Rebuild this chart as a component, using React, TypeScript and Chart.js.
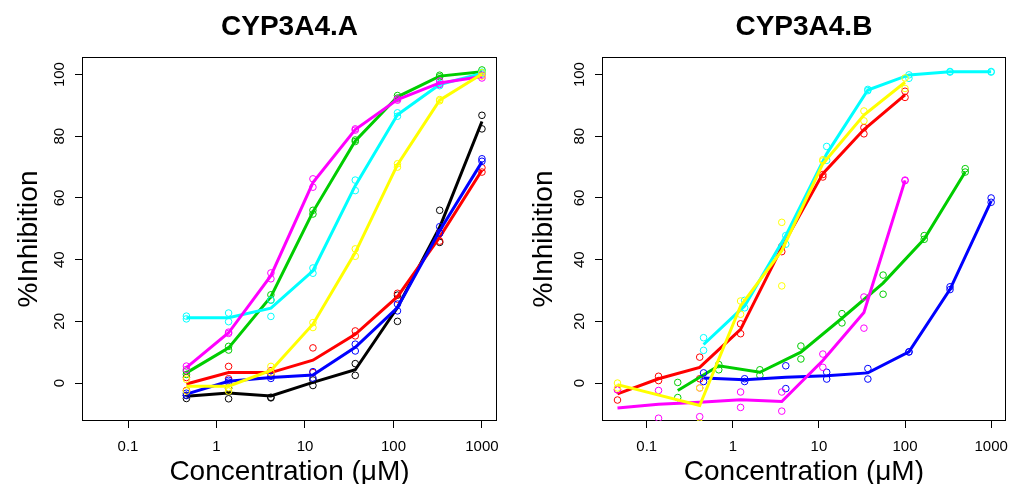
import React, { useEffect, useRef } from "react";
import { Chart, registerables } from "chart.js";

Chart.register(...registerables);

// ---------- data ----------
const xTickValues = [0.1, 1, 10, 100, 1000];
const xTickLabels = ["0.1", "1", "10", "100", "1000"];
const yTickValues = [0, 20, 40, 60, 80, 100];
const yTickLabels = ["0", "20", "40", "60", "80", "100"];

const titleA = "CYP3A4.A";
const titleB = "CYP3A4.B";
const xTitle = "Concentration (\u03BCM)";
const yTitle = "%Inhibition";

// concentrations (µM)
const conc1000 = [0.457, 1.37, 4.12, 12.3, 37.0, 111, 333, 1000];
const conc100 = [0.0457, 0.137, 0.412, 1.23, 3.7, 11.1, 33.3, 100];
const conc500 = [0.229, 0.686, 2.06, 6.17, 18.5, 55.6, 167, 500];

// ---- CYP3A4.A (all on conc1000) ----
const aBlackLine = [-4.3, -3.2, -4.2, 0.2, 4.3, 24.5, 50.5, 84.8];
const aBlackRep1 = [-4.0, -5.1, -4.6, -0.8, 6.3, 20.0, 56.0, 86.8];
const aBlackRep2 = [-5.0, -1.7, -4.8, 1.0, 2.5, 28.5, 45.6, 82.4];

const aRedLine = [-0.3, 3.4, 3.4, 7.4, 15.8, 28.0, 47.3, 69.0];
const aRedRep1 = [1.8, 5.4, 4.0, 11.4, 16.9, 29.1, 48.6, 69.8];
const aRedRep2 = [-2.4, 1.4, 2.9, 3.4, 15.3, 27.2, 46.0, 68.4];

const aGreenLine = [3.3, 11.4, 28.0, 55.5, 78.5, 92.8, 99.5, 100.9];
const aGreenRep1 = [3.9, 11.9, 28.6, 56.0, 78.8, 93.2, 99.8, 101.5];
const aGreenRep2 = [2.8, 10.7, 26.9, 54.8, 78.3, 92.4, 99.3, 100.6];

const aBlueLine = [-3.6, 0.6, 1.8, 2.6, 11.6, 24.5, 49.4, 71.7];
const aBlueRep1 = [-3.3, 0.9, 2.2, 3.7, 12.6, 25.6, 50.7, 72.7];
const aBlueRep2 = [-4.0, 0.3, 1.5, 1.6, 10.4, 23.4, 48.6, 71.9];

const aCyanLine = [21.2, 21.2, 24.3, 36.4, 64.0, 87.0, 96.8, 100.4];
const aCyanRep1 = [21.7, 22.7, 26.9, 37.3, 65.8, 87.6, 97.1, 100.8];
const aCyanRep2 = [20.8, 19.9, 21.6, 35.6, 62.4, 86.5, 96.4, 100.2];

const aMagentaLine = [5.0, 16.3, 34.8, 65.0, 82.2, 91.9, 97.3, 99.4];
const aMagentaRep1 = [5.5, 16.5, 35.7, 66.2, 82.4, 92.1, 97.9, 99.8];
const aMagentaRep2 = [4.4, 16.1, 33.8, 63.5, 82.0, 91.7, 96.8, 98.9];

const aYellowLine = [-1.0, -1.0, 4.1, 19.1, 42.3, 70.8, 91.7, 100.2];
const aYellowRep1 = [1.2, -1.5, 5.4, 19.6, 43.5, 71.1, 91.9, 100.6];
const aYellowRep2 = [-2.6, -2.6, 3.4, 18.0, 41.1, 70.0, 91.5, 99.5];

// ---- CYP3A4.B ----
const bRedLine = [-3.5, 1.4, 5.1, 17.4, 44.0, 67.9, 82.2, 93.4];
const bRedRep1 = [-2.2, 2.2, 8.4, 19.2, 44.3, 67.6, 82.8, 94.6];
const bRedRep2 = [-5.5, 0.8, 1.4, 16.0, 42.6, 66.8, 80.8, 92.6];

const bYellowLine = [-0.5, null, -7.3, 25.0, 42.9, 71.1, 86.9, 97.5];
const bYellowRep1 = [0.0, null, -1.6, 26.6, 52.1, 72.4, 88.2, 98.9];
const bYellowRep2 = [-1.6, null, -13.0, 22.3, 31.5, 72.0, 85.0, 95.5];

const bCyanLine = [12.5, 25.0, 47.8, 74.3, 95.0, 99.9, 100.9, 100.9];
const bCyanRep1 = [14.7, 26.8, 47.8, 76.7, 95.2, 99.9, 101.0, 101.0];
const bCyanRep2 = [10.6, 24.4, 45.0, 72.2, 94.8, 98.8, 100.8, 100.8];

const bGreenLine = [-2.4, 5.6, 3.5, 10.0, 21.0, 32.4, 46.7, 68.4];
const bGreenRep1 = [0.2, 6.0, 4.3, 12.0, 22.5, 35.0, 47.8, 69.5];
const bGreenRep2 = [-4.7, 4.3, 2.5, 7.8, 19.5, 28.8, 46.6, 68.4];

const bBlueLine = [1.6, 1.1, 1.9, 2.4, 3.3, 10.1, 30.4, 59.0];
const bBlueRep1 = [3.3, 1.4, 5.6, 3.5, 4.7, 10.1, 31.2, 60.0];
const bBlueRep2 = [0.5, 0.5, -1.8, 1.3, 1.3, 10.1, 30.3, 58.6];

const bMagentaLine = [-8.1, -6.9, -6.2, -5.4, -6.0, 7.3, 22.9, 65.7];
const bMagentaRep1 = [-2.2, -2.4, -1.6, -2.9, -2.9, 9.4, 27.9, 65.8];
const bMagentaRep2 = [-14.0, -11.4, -10.9, -7.9, -9.1, 5.1, 17.8, 65.6];

// ---------- styling / layout ----------
const COLORS = {
  black: "#000000",
  red: "#FF0000",
  green: "#00CD00",
  blue: "#0000FF",
  cyan: "#00FFFF",
  magenta: "#FF00FF",
  yellow: "#FFFF00",
};

const FONT = "'Liberation Sans', Arial, Helvetica, sans-serif";
const W = 509;
const H = 484;
const X_MIN = Math.pow(10, -1.52);
const X_MAX = Math.pow(10, 3.17);
const Y_MIN = -12.3;
const Y_MAX = 105.7;

type Series = {
  color: string;
  conc: number[];
  line: (number | null)[];
  rep1: (number | null)[];
  rep2: (number | null)[];
};

const seriesA: Series[] = [
  { color: COLORS.black, conc: conc1000, line: aBlackLine, rep1: aBlackRep1, rep2: aBlackRep2 },
  { color: COLORS.red, conc: conc1000, line: aRedLine, rep1: aRedRep1, rep2: aRedRep2 },
  { color: COLORS.green, conc: conc1000, line: aGreenLine, rep1: aGreenRep1, rep2: aGreenRep2 },
  { color: COLORS.blue, conc: conc1000, line: aBlueLine, rep1: aBlueRep1, rep2: aBlueRep2 },
  { color: COLORS.cyan, conc: conc1000, line: aCyanLine, rep1: aCyanRep1, rep2: aCyanRep2 },
  { color: COLORS.magenta, conc: conc1000, line: aMagentaLine, rep1: aMagentaRep1, rep2: aMagentaRep2 },
  { color: COLORS.yellow, conc: conc1000, line: aYellowLine, rep1: aYellowRep1, rep2: aYellowRep2 },
];

const seriesB: Series[] = [
  { color: COLORS.red, conc: conc100, line: bRedLine, rep1: bRedRep1, rep2: bRedRep2 },
  { color: COLORS.green, conc: conc500, line: bGreenLine, rep1: bGreenRep1, rep2: bGreenRep2 },
  { color: COLORS.blue, conc: conc1000, line: bBlueLine, rep1: bBlueRep1, rep2: bBlueRep2 },
  { color: COLORS.cyan, conc: conc1000, line: bCyanLine, rep1: bCyanRep1, rep2: bCyanRep2 },
  { color: COLORS.magenta, conc: conc100, line: bMagentaLine, rep1: bMagentaRep1, rep2: bMagentaRep2 },
  { color: COLORS.yellow, conc: conc100, line: bYellowLine, rep1: bYellowRep1, rep2: bYellowRep2 },
];

function toXY(conc: number[], vals: (number | null)[]) {
  const out: { x: number; y: number }[] = [];
  vals.forEach((v, i) => {
    if (v !== null && v !== undefined) out.push({ x: conc[i], y: v });
  });
  return out;
}

function buildDatasets(series: Series[]) {
  const ds: any[] = [];
  // index 0 is drawn on top in Chart.js -> reverse palette order
  [...series].reverse().forEach((s) => {
    ds.push({
      data: toXY(s.conc, s.line),
      borderColor: s.color,
      borderWidth: 3,
      pointRadius: 0,
      pointHoverRadius: 0,
      tension: 0,
      fill: false,
      clip: 0,
    });
    ds.push({
      data: [...toXY(s.conc, s.rep1), ...toXY(s.conc, s.rep2)],
      showLine: false,
      borderColor: s.color,
      pointBorderColor: s.color,
      pointBackgroundColor: "rgba(0,0,0,0)",
      pointRadius: 3.3,
      pointBorderWidth: 1,
      pointHoverRadius: 3.3,
      clip: 0,
    });
  });
  return ds;
}

type Layout = { left: number; right: number; top: number; bottom: number; title: string; yTitleX: number };

function makeConfig(series: Series[], lay: Layout): any {
  const decor = {
    id: "rdecor",
    beforeDatasetsDraw(chart: any) {
      const ctx = chart.ctx;
      const ca = chart.chartArea;
      ctx.save();
      ctx.strokeStyle = "#000";
      ctx.lineWidth = 1;
      ctx.strokeRect(Math.round(ca.left) + 0.5, Math.round(ca.top) + 0.5, Math.round(ca.right - ca.left) - 1, Math.round(ca.bottom - ca.top) - 1);
      ctx.restore();
    },
    afterDraw(chart: any) {
      const ctx = chart.ctx;
      const ca = chart.chartArea;
      const ys = chart.scales.y;
      ctx.save();
      ctx.fillStyle = "#000";
      // title
      ctx.font = `bold 28px ${FONT}`;
      ctx.textAlign = "center";
      ctx.textBaseline = "alphabetic";
      ctx.fillText(lay.title, (ca.left + ca.right) / 2, 35);
      // x title
      ctx.font = `28px ${FONT}`;
      ctx.fillText(xTitle, (ca.left + ca.right) / 2, 480);
      // y tick labels (rotated, as in R)
      ctx.font = `15px ${FONT}`;
      yTickValues.forEach((v, i) => {
        const py = ys.getPixelForValue(v);
        ctx.save();
        ctx.translate(ca.left - 18, py);
        ctx.rotate(-Math.PI / 2);
        ctx.textAlign = "center";
        ctx.fillText(yTickLabels[i], 0, 0);
        ctx.restore();
      });
      // y title
      ctx.font = `28px ${FONT}`;
      ctx.save();
      ctx.translate(lay.yTitleX, (ca.top + ca.bottom) / 2);
      ctx.rotate(-Math.PI / 2);
      ctx.textAlign = "center";
      ctx.fillText(yTitle, 0, 0);
      ctx.restore();
      ctx.restore();
    },
  };

  return {
    type: "line",
    data: { datasets: buildDatasets(series) },
    plugins: [decor],
    options: {
      responsive: false,
      animation: false,
      devicePixelRatio: 1,
      layout: { padding: { left: 0, top: lay.top, right: W - lay.right, bottom: 0 } },
      plugins: { legend: { display: false }, tooltip: { enabled: false }, title: { display: false } },
      events: [],
      scales: {
        x: {
          type: "logarithmic",
          min: X_MIN,
          max: X_MAX,
          afterBuildTicks: (s: any) => {
            s.ticks = xTickValues.map((v) => ({ value: v }));
          },
          afterFit: (s: any) => {
            s.height = H - lay.bottom;
          },
          ticks: {
            autoSkip: false,
            maxRotation: 0,
            minRotation: 0,
            padding: 10,
            color: "#000",
            font: { family: FONT, size: 15 },
            callback: (_v: any, i: number) => xTickLabels[i],
          },
          grid: { drawOnChartArea: false, drawTicks: true, tickLength: 7, color: "#000", lineWidth: 1 },
          border: { display: false },
        },
        y: {
          type: "linear",
          min: Y_MIN,
          max: Y_MAX,
          afterBuildTicks: (s: any) => {
            s.ticks = yTickValues.map((v) => ({ value: v }));
          },
          afterFit: (s: any) => {
            s.width = lay.left;
          },
          ticks: { display: false },
          grid: { drawOnChartArea: false, drawTicks: true, tickLength: 7, color: "#000", lineWidth: 1 },
          border: { display: false },
        },
      },
    },
  };
}

function Panel({ series, lay, offsetX }: { series: Series[]; lay: Layout; offsetX: number }) {
  const ref = useRef<HTMLCanvasElement | null>(null);
  useEffect(() => {
    if (!ref.current) return;
    const chart = new Chart(ref.current, makeConfig(series, lay));
    return () => chart.destroy();
  }, []);
  return (
    <div style={{ position: "absolute", left: offsetX, top: 0, width: W, height: H }}>
      <canvas ref={ref} width={W} height={H} style={{ width: W, height: H, display: "block" }} />
    </div>
  );
}

const layoutA: Layout = { left: 82, right: 499, top: 57, bottom: 421, title: titleA, yTitleX: 37 };
const layoutB: Layout = { left: 93, right: 504, top: 57, bottom: 421, title: titleB, yTitleX: 43 };

export default function App() {
  return (
    <div style={{ position: "absolute", left: 0, top: 0, width: 1018, height: 484, background: "#fff", overflow: "hidden" }}>
      <Panel series={seriesA} lay={layoutA} offsetX={0} />
      <Panel series={seriesB} lay={layoutB} offsetX={509} />
    </div>
  );
}
